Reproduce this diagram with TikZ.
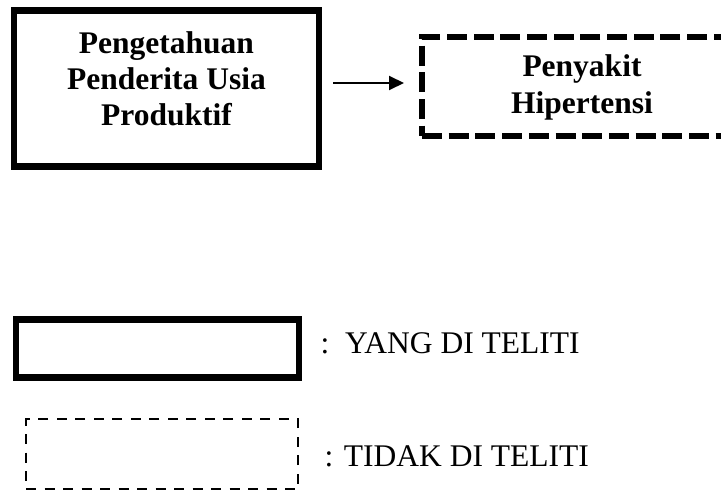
\documentclass[tikz,border=0pt]{standalone}
\usepackage{fontspec}
\setmainfont{Liberation Serif}
\usetikzlibrary{arrows.meta}
\tikzset{
  mainbox/.style={draw=black, line width=6.5pt, rectangle, inner sep=0pt, outer sep=0pt, align=center,
    font=\fontsize{31.5}{36}\selectfont\bfseries},
  dashbox/.style={draw=black, line width=5.8pt, dash pattern=on 20pt off 6.7pt, rectangle, inner sep=0pt, outer sep=0pt, align=center,
    font=\fontsize{31.5}{37}\selectfont\bfseries},
  legsolid/.style={draw=black, line width=6.5pt, rectangle, inner sep=0pt, outer sep=0pt},
  legdash/.style={draw=black, line width=2.3pt, dash pattern=on 10pt off 8.5pt, rectangle, inner sep=0pt, outer sep=0pt},
  legtext/.style={inner sep=0pt, anchor=base west, font=\fontsize{31.5}{36.5}\selectfont},
  arr/.style={line width=2pt, -{Triangle[length=15pt,width=14pt]}},
}
\begin{document}
\begin{tikzpicture}[x=1pt,y=-1pt]
\useasboundingbox (0,0) rectangle (721,490);
\node[mainbox, minimum width=305pt, minimum height=156pt] (box1) at (166.5,88.5)
  {Pengetahuan\\Penderita Usia\\Produktif\rule[-20pt]{0pt}{20pt}};
\node[dashbox, minimum width=320pt, minimum height=99pt] (box2) at (582,86.5)
  {\rule{0pt}{24pt}Penyakit\\Hipertensi};
\draw[arr, shorten <=14pt, shorten >=18pt] ([yshift=5.5pt]box1.east) -- ([yshift=5.5pt]box1.east -| box2.west);
\node[legsolid, minimum width=283pt, minimum height=58pt] (leg1) at (157.5,348.5) {};
\node[legdash, minimum width=272pt, minimum height=70pt] (leg2) at (162,454) {};
\node[legtext] (t1) at (320.5,353) {:\ \ YANG DI TELITI};
\node[legtext] (t2) at (324.5,466) {: TIDAK DI TELITI};
\end{tikzpicture}
\end{document}
